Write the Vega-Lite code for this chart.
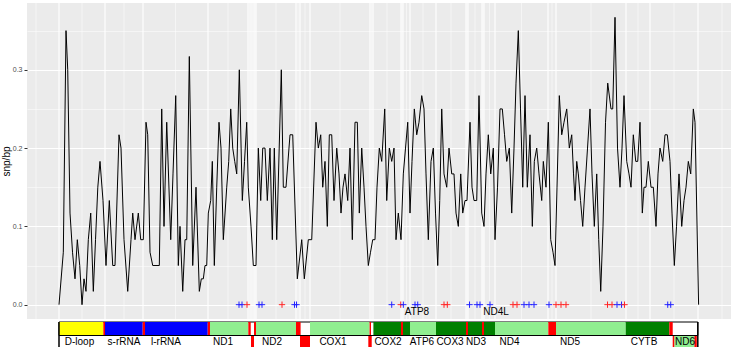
{
  "$schema": "https://vega.github.io/schema/vega-lite/v6.json",
  "padding": {"left": 1, "top": 2, "right": 2, "bottom": 1},
  "spacing": 1,
  "resolve": {"scale": {"color": "independent", "strokeWidth": "independent"}},
  "config": {"view": {"stroke": null}, "font": "Liberation Sans"},
  "datasets": {
    "snp": [
      {"pos":0,"snp":0},{"pos":108,"snp":0.067},{"pos":175,"snp":0.35},{"pos":218,"snp":0.3},{"pos":275,"snp":0.117},{"pos":338,"snp":0.067},{"pos":400,"snp":0.033},{"pos":458,"snp":0.083},{"pos":518,"snp":0.05},{"pos":575,"snp":0},
      {"pos":625,"snp":0.033},{"pos":675,"snp":0.017},{"pos":733,"snp":0.083},{"pos":793,"snp":0.117},{"pos":858,"snp":0.017},{"pos":913,"snp":0.083},{"pos":970,"snp":0.15},{"pos":1025,"snp":0.183},{"pos":1100,"snp":0.133},{"pos":1175,"snp":0.05},
      {"pos":1258,"snp":0.133},{"pos":1343,"snp":0.05},{"pos":1400,"snp":0.05},{"pos":1500,"snp":0.217},{"pos":1550,"snp":0.2},{"pos":1625,"snp":0.083},{"pos":1718,"snp":0.017},{"pos":1800,"snp":0.083},{"pos":1843,"snp":0.117},{"pos":1900,"snp":0.083},
      {"pos":1983,"snp":0.117},{"pos":2043,"snp":0.083},{"pos":2108,"snp":0.083},{"pos":2175,"snp":0.233},{"pos":2218,"snp":0.217},{"pos":2275,"snp":0.067},{"pos":2343,"snp":0.05},{"pos":2400,"snp":0.05},{"pos":2450,"snp":0.05},{"pos":2508,"snp":0.05},
      {"pos":2568,"snp":0.25},{"pos":2625,"snp":0.1},{"pos":2693,"snp":0.233},{"pos":2793,"snp":0.083},{"pos":2850,"snp":0.167},{"pos":2918,"snp":0.267},{"pos":2983,"snp":0.05},{"pos":3025,"snp":0.1},{"pos":3093,"snp":0.017},{"pos":3150,"snp":0.083},
      {"pos":3193,"snp":0.083},{"pos":3258,"snp":0.317},{"pos":3343,"snp":0.05},{"pos":3425,"snp":0.15},{"pos":3508,"snp":0.017},{"pos":3558,"snp":0.033},{"pos":3608,"snp":0.033},{"pos":3650,"snp":0.05},{"pos":3693,"snp":0.05},{"pos":3733,"snp":0.117},
      {"pos":3793,"snp":0.133},{"pos":3833,"snp":0.183},{"pos":3883,"snp":0.05},{"pos":3943,"snp":0.15},{"pos":4000,"snp":0.233},{"pos":4050,"snp":0.2},{"pos":4108,"snp":0.083},{"pos":4193,"snp":0.15},{"pos":4243,"snp":0.183},{"pos":4293,"snp":0.25},
      {"pos":4343,"snp":0.2},{"pos":4393,"snp":0.183},{"pos":4443,"snp":0.167},{"pos":4508,"snp":0.3},{"pos":4583,"snp":0.133},{"pos":4638,"snp":0.183},{"pos":4693,"snp":0.233},{"pos":4733,"snp":0.15},{"pos":4800,"snp":0.1},{"pos":4858,"snp":0.05},
      {"pos":4925,"snp":0.05},{"pos":4983,"snp":0.2},{"pos":5043,"snp":0.133},{"pos":5093,"snp":0.2},{"pos":5150,"snp":0.2},{"pos":5208,"snp":0.133},{"pos":5275,"snp":0.2},{"pos":5333,"snp":0.083},{"pos":5383,"snp":0.2},{"pos":5443,"snp":0.083},
      {"pos":5558,"snp":0.3},{"pos":5608,"snp":0.15},{"pos":5675,"snp":0.15},{"pos":5775,"snp":0.217},{"pos":5843,"snp":0.217},{"pos":5958,"snp":0.033},{"pos":6068,"snp":0.083},{"pos":6133,"snp":0.033},{"pos":6233,"snp":0.083},{"pos":6318,"snp":0.083},
      {"pos":6425,"snp":0.233},{"pos":6483,"snp":0.2},{"pos":6543,"snp":0.217},{"pos":6593,"snp":0.15},{"pos":6650,"snp":0.183},{"pos":6708,"snp":0.1},{"pos":6758,"snp":0.217},{"pos":6818,"snp":0.217},{"pos":6875,"snp":0.133},{"pos":6943,"snp":0.2},
      {"pos":7000,"snp":0.167},{"pos":7050,"snp":0.117},{"pos":7100,"snp":0.15},{"pos":7150,"snp":0.167},{"pos":7218,"snp":0.133},{"pos":7275,"snp":0.2},{"pos":7333,"snp":0.083},{"pos":7400,"snp":0.233},{"pos":7458,"snp":0.233},{"pos":7508,"snp":0.117},
      {"pos":7568,"snp":0.2},{"pos":7625,"snp":0.15},{"pos":7675,"snp":0.1},{"pos":7733,"snp":0.05},{"pos":7788,"snp":0.067},{"pos":7843,"snp":0.083},{"pos":7900,"snp":0.083},{"pos":7950,"snp":0.15},{"pos":8008,"snp":0.2},{"pos":8068,"snp":0.183},
      {"pos":8143,"snp":0.25},{"pos":8193,"snp":0.133},{"pos":8258,"snp":0.2},{"pos":8318,"snp":0.183},{"pos":8375,"snp":0.2},{"pos":8425,"snp":0.083},{"pos":8483,"snp":0.117},{"pos":8550,"snp":0.083},{"pos":8608,"snp":0.167},{"pos":8663,"snp":0.2},
      {"pos":8718,"snp":0.233},{"pos":8775,"snp":0.117},{"pos":8825,"snp":0.183},{"pos":8883,"snp":0.25},{"pos":8943,"snp":0.217},{"pos":9000,"snp":0.233},{"pos":9068,"snp":0.267},{"pos":9125,"snp":0.25},{"pos":9175,"snp":0.167},{"pos":9233,"snp":0.083},
      {"pos":9300,"snp":0.183},{"pos":9358,"snp":0.2},{"pos":9413,"snp":0.117},{"pos":9468,"snp":0.05},{"pos":9518,"snp":0.133},{"pos":9568,"snp":0.25},{"pos":9625,"snp":0.167},{"pos":9693,"snp":0.15},{"pos":9750,"snp":0.2},{"pos":9818,"snp":0.167},
      {"pos":9875,"snp":0.167},{"pos":9925,"snp":0.117},{"pos":9983,"snp":0.1},{"pos":10043,"snp":0.167},{"pos":10093,"snp":0.117},{"pos":10150,"snp":0.133},{"pos":10200,"snp":0.133},{"pos":10275,"snp":0.233},{"pos":10325,"snp":0.15},{"pos":10375,"snp":0.133},
      {"pos":10443,"snp":0.133},{"pos":10500,"snp":0.267},{"pos":10568,"snp":0.117},{"pos":10625,"snp":0.1},{"pos":10675,"snp":0.167},{"pos":10733,"snp":0.217},{"pos":10793,"snp":0.167},{"pos":10858,"snp":0.2},{"pos":10900,"snp":0.083},{"pos":10963,"snp":0.15},
      {"pos":11025,"snp":0.25},{"pos":11083,"snp":0.25},{"pos":11138,"snp":0.217},{"pos":11193,"snp":0.183},{"pos":11258,"snp":0.2},{"pos":11318,"snp":0.117},{"pos":11375,"snp":0.2},{"pos":11425,"snp":0.283},{"pos":11483,"snp":0.35},{"pos":11538,"snp":0.25},
      {"pos":11593,"snp":0.15},{"pos":11650,"snp":0.267},{"pos":11708,"snp":0.15},{"pos":11775,"snp":0.217},{"pos":11833,"snp":0.1},{"pos":11883,"snp":0.183},{"pos":11943,"snp":0.2},{"pos":12000,"snp":0.167},{"pos":12068,"snp":0.133},{"pos":12108,"snp":0.183},
      {"pos":12175,"snp":0.15},{"pos":12233,"snp":0.233},{"pos":12293,"snp":0.083},{"pos":12350,"snp":0.067},{"pos":12400,"snp":0.05},{"pos":12450,"snp":0.15},{"pos":12508,"snp":0.267},{"pos":12568,"snp":0.217},{"pos":12625,"snp":0.233},{"pos":12693,"snp":0.25},
      {"pos":12758,"snp":0.2},{"pos":12818,"snp":0.217},{"pos":12863,"snp":0.167},{"pos":12900,"snp":0.133},{"pos":12943,"snp":0.183},{"pos":12983,"snp":0.167},{"pos":13038,"snp":0.133},{"pos":13093,"snp":0.1},{"pos":13150,"snp":0.15},{"pos":13213,"snp":0.2},
      {"pos":13275,"snp":0.25},{"pos":13325,"snp":0.167},{"pos":13383,"snp":0.1},{"pos":13443,"snp":0.167},{"pos":13493,"snp":0.083},{"pos":13543,"snp":0.017},{"pos":13600,"snp":0.1},{"pos":13663,"snp":0.233},{"pos":13718,"snp":0.283},{"pos":13800,"snp":0.25},
      {"pos":13843,"snp":0.25},{"pos":13900,"snp":0.367},{"pos":13963,"snp":0.2},{"pos":14025,"snp":0.15},{"pos":14075,"snp":0.2},{"pos":14125,"snp":0.267},{"pos":14193,"snp":0.183},{"pos":14250,"snp":0.167},{"pos":14300,"snp":0.15},{"pos":14358,"snp":0.217},
      {"pos":14418,"snp":0.183},{"pos":14468,"snp":0.183},{"pos":14525,"snp":0.233},{"pos":14583,"snp":0.117},{"pos":14625,"snp":0.15},{"pos":14675,"snp":0.15},{"pos":14733,"snp":0.183},{"pos":14800,"snp":0.15},{"pos":14858,"snp":0.15},{"pos":14925,"snp":0.1},
      {"pos":14975,"snp":0.167},{"pos":15025,"snp":0.2},{"pos":15093,"snp":0.183},{"pos":15150,"snp":0.217},{"pos":15208,"snp":0.217},{"pos":15275,"snp":0.183},{"pos":15325,"snp":0.117},{"pos":15383,"snp":0.05},{"pos":15438,"snp":0.1},{"pos":15500,"snp":0.167},
      {"pos":15568,"snp":0.1},{"pos":15625,"snp":0.133},{"pos":15675,"snp":0.15},{"pos":15733,"snp":0.183},{"pos":15793,"snp":0.167},{"pos":15858,"snp":0.25},{"pos":15900,"snp":0.233},{"pos":15990,"snp":0}
    ],
    "markers": [
      {"pos":4500,"type":"b"},{"pos":4575,"type":"b"},{"pos":4700,"type":"r"},{"pos":5000,"type":"b"},{"pos":5075,"type":"b"},{"pos":5575,"type":"r"},{"pos":5888,"type":"b"},{"pos":5938,"type":"b"},
      {"pos":8318,"type":"b"},{"pos":8543,"type":"r"},{"pos":8608,"type":"b"},{"pos":8900,"type":"b"},{"pos":8968,"type":"b"},{"pos":9625,"type":"r"},{"pos":9708,"type":"r"},
      {"pos":10263,"type":"b"},{"pos":10450,"type":"b"},{"pos":10525,"type":"b"},{"pos":10775,"type":"b"},{"pos":11350,"type":"r"},{"pos":11450,"type":"r"},{"pos":11625,"type":"b"},{"pos":11750,"type":"b"},{"pos":11875,"type":"b"},
      {"pos":12250,"type":"b"},{"pos":12425,"type":"r"},{"pos":12550,"type":"r"},{"pos":12675,"type":"r"},{"pos":13713,"type":"r"},{"pos":13825,"type":"r"},{"pos":13950,"type":"b"},{"pos":14063,"type":"b"},{"pos":14138,"type":"r"},
      {"pos":15218,"type":"b"},{"pos":15293,"type":"b"}
    ],
    "grid": [
      {"pos":0,"kind":"major"},{"pos":1150,"kind":"major"},{"pos":2100,"kind":"major"},{"pos":3725,"kind":"major"},{"pos":4725,"kind":"major"},{"pos":4800,"kind":"major"},{"pos":4875,"kind":"major"},{"pos":4925,"kind":"major"},{"pos":5925,"kind":"major"},{"pos":6025,"kind":"major"},{"pos":6275,"kind":"major"},{"pos":7775,"kind":"major"},{"pos":7850,"kind":"major"},{"pos":8550,"kind":"major"},{"pos":8600,"kind":"major"},{"pos":8775,"kind":"major"},{"pos":9425,"kind":"major"},{"pos":10175,"kind":"major"},{"pos":10225,"kind":"major"},{"pos":10575,"kind":"major"},{"pos":10625,"kind":"major"},{"pos":10900,"kind":"major"},{"pos":12225,"kind":"major"},{"pos":12425,"kind":"major"},{"pos":14175,"kind":"major"},{"pos":14775,"kind":"major"},{"pos":15975,"kind":"major"},
      {"pos":-575,"kind":"minor"},{"pos":575,"kind":"minor"},{"pos":1625,"kind":"minor"},{"pos":2912,"kind":"minor"},{"pos":4225,"kind":"minor"},{"pos":4762,"kind":"minor"},{"pos":4837,"kind":"minor"},{"pos":4900,"kind":"minor"},{"pos":5425,"kind":"minor"},{"pos":5975,"kind":"minor"},{"pos":6150,"kind":"minor"},{"pos":7025,"kind":"minor"},{"pos":7812,"kind":"minor"},{"pos":8200,"kind":"minor"},{"pos":8575,"kind":"minor"},{"pos":8687,"kind":"minor"},{"pos":9100,"kind":"minor"},{"pos":9800,"kind":"minor"},{"pos":10200,"kind":"minor"},{"pos":10400,"kind":"minor"},{"pos":10600,"kind":"minor"},{"pos":10762,"kind":"minor"},{"pos":11562,"kind":"minor"},{"pos":12325,"kind":"minor"},{"pos":13300,"kind":"minor"},{"pos":14475,"kind":"minor"},{"pos":15375,"kind":"minor"},{"pos":16575,"kind":"minor"}
    ],
    "genome": [{"start":0,"end":15970}],
    "genes": [
      {"gene":"D-loop","start":0,"end":1108,"lane":"H","class":"D-loop"},
      {"gene":"tRNA-Phe","start":1108,"end":1150,"lane":"H","class":"tRNA"},
      {"gene":"s-rRNA","start":1150,"end":2093,"lane":"H","class":"rRNA"},
      {"gene":"tRNA-Val","start":2093,"end":2150,"lane":"H","class":"tRNA"},
      {"gene":"l-rRNA","start":2150,"end":3718,"lane":"H","class":"rRNA"},
      {"gene":"tRNA-Leu","start":3718,"end":3775,"lane":"H","class":"tRNA"},
      {"gene":"ND1","start":3775,"end":4733,"lane":"H","class":"PCG-light"},
      {"gene":"tRNA-Ile","start":4733,"end":4793,"lane":"H","class":"tRNA"},
      {"gene":"tRNA-Gln","start":4800,"end":4875,"lane":"L","class":"tRNA"},
      {"gene":"tRNA-Met","start":4875,"end":4925,"lane":"H","class":"tRNA"},
      {"gene":"ND2","start":4925,"end":5925,"lane":"H","class":"PCG-light"},
      {"gene":"tRNA-Trp","start":5925,"end":6040,"lane":"H","class":"tRNA"},
      {"gene":"tRNA-Ala-Asn-Cys-Tyr","start":6025,"end":6275,"lane":"L","class":"tRNA"},
      {"gene":"COX1","start":6275,"end":7765,"lane":"H","class":"PCG-light"},
      {"gene":"tRNA-Ser","start":7733,"end":7818,"lane":"L","class":"tRNA"},
      {"gene":"tRNA-Asp","start":7765,"end":7800,"lane":"H","class":"tRNA"},
      {"gene":"COX2","start":7860,"end":8550,"lane":"H","class":"PCG-dark"},
      {"gene":"tRNA-Lys","start":8550,"end":8600,"lane":"H","class":"tRNA"},
      {"gene":"ATP8","start":8600,"end":8775,"lane":"H","class":"PCG-dark"},
      {"gene":"ATP6","start":8775,"end":9425,"lane":"H","class":"PCG-light"},
      {"gene":"COX3","start":9425,"end":10175,"lane":"H","class":"PCG-dark"},
      {"gene":"tRNA-Gly","start":10175,"end":10225,"lane":"H","class":"tRNA"},
      {"gene":"ND3","start":10225,"end":10575,"lane":"H","class":"PCG-dark"},
      {"gene":"tRNA-Arg","start":10575,"end":10625,"lane":"H","class":"tRNA"},
      {"gene":"ND4L","start":10625,"end":10900,"lane":"H","class":"PCG-dark"},
      {"gene":"ND4","start":10900,"end":12233,"lane":"H","class":"PCG-light"},
      {"gene":"tRNA-His-Ser-Leu","start":12233,"end":12425,"lane":"H","class":"tRNA"},
      {"gene":"ND5","start":12425,"end":14168,"lane":"H","class":"PCG-light"},
      {"gene":"CYTB","start":14168,"end":15258,"lane":"H","class":"PCG-dark"},
      {"gene":"tRNA-Thr","start":15258,"end":15343,"lane":"H","class":"tRNA"},
      {"gene":"tRNA-Pro","start":15343,"end":15388,"lane":"L","class":"tRNA"},
      {"gene":"ND6","start":15388,"end":15885,"lane":"L","class":"PCG-light"},
      {"gene":"tRNA-Glu","start":15885,"end":15945,"lane":"L","class":"tRNA"}
    ],
    "labels": [
      {"name":"D-loop","pos":512,"lane":"below"},{"name":"s-rRNA","pos":1625,"lane":"below"},{"name":"l-rRNA","pos":2675,"lane":"below"},{"name":"ND1","pos":4100,"lane":"below"},
      {"name":"ND2","pos":5325,"lane":"below"},{"name":"COX1","pos":6850,"lane":"below"},{"name":"COX2","pos":8225,"lane":"below"},{"name":"ATP8","pos":8950,"lane":"above"},
      {"name":"ATP6","pos":9075,"lane":"below"},{"name":"COX3","pos":9775,"lane":"below"},{"name":"ND3","pos":10425,"lane":"below"},{"name":"ND4L","pos":10925,"lane":"above"},
      {"name":"ND4","pos":11263,"lane":"below"},{"name":"ND5","pos":12775,"lane":"below"},{"name":"CYTB","pos":14625,"lane":"below"},{"name":"ND6","pos":15650,"lane":"below"}
    ]
  },
  "vconcat": [
    {
      "width": 704,
      "height": 316,
      "view": {"fill": "#EBEBEB", "stroke": null},
      "layer": [
        {
          "data": {"name": "grid"},
          "mark": {"type": "rule", "color": "white"},
          "encoding": {
            "x": {"field": "pos", "type": "quantitative", "scale": {"domain": [-800, 16800], "nice": false, "zero": false}, "axis": null},
            "strokeWidth": {"field": "kind", "type": "nominal", "scale": {"domain": ["major", "minor"], "range": [1.1, 0.5]}, "legend": null}
          }
        },
        {
          "data": {"name": "snp"},
          "mark": {"type": "line", "color": "black", "strokeWidth": 1},
          "encoding": {
            "x": {"field": "pos", "type": "quantitative"},
            "y": {
              "field": "snp", "type": "quantitative",
              "scale": {"domain": [-0.0183, 0.3853], "nice": false, "zero": false},
              "title": "snp/bp",
              "axis": {
                "values": [0, 0.05, 0.1, 0.15, 0.2, 0.25, 0.3, 0.35],
                "labelExpr": "round(datum.value*100) % 10 == 0 ? format(datum.value, '.1f') : ''",
                "grid": true,
                "gridColor": "white",
                "gridWidth": {"condition": {"test": "round(datum.value*100) % 10 == 0", "value": 1.1}, "value": 0.5},
                "tickOpacity": {"condition": {"test": "round(datum.value*100) % 10 == 0", "value": 1}, "value": 0},
                "tickSize": 3,
                "tickColor": "#333333",
                "domain": false,
                "labelFontSize": 7,
                "labelColor": "#4D4D4D",
                "labelPadding": 2,
                "minExtent": 15,
                "maxExtent": 15,
                "titleFontSize": 10,
                "titleFontWeight": "normal",
                "titleColor": "black",
                "titlePadding": 1
              }
            }
          }
        },
        {
          "data": {"name": "markers"},
          "mark": {"type": "point", "shape": "M-1,0L1,0M0,-1L0,1", "filled": false, "size": 40, "strokeWidth": 1, "opacity": 1},
          "encoding": {
            "x": {"field": "pos", "type": "quantitative"},
            "y": {"datum": 0},
            "color": {"field": "type", "type": "nominal", "scale": {"domain": ["b", "r"], "range": ["#2222FF", "#FF2222"]}, "legend": null}
          }
        },
        {
          "data": {"name": "labels"},
          "transform": [{"filter": "datum.lane == 'above'"}],
          "mark": {"type": "text", "fontSize": 10, "color": "black"},
          "encoding": {
            "x": {"field": "pos", "type": "quantitative"},
            "y": {"datum": -0.0089},
            "text": {"field": "name"}
          }
        }
      ]
    },
    {
      "width": 704,
      "height": 27,
      "layer": [
        {
          "data": {"name": "genome"},
          "mark": {"type": "rect", "fill": "white", "stroke": "black", "strokeWidth": 1},
          "encoding": {
            "x": {"field": "start", "type": "quantitative", "scale": {"domain": [-800, 16800], "nice": false, "zero": false}, "axis": null},
            "x2": {"field": "end"},
            "y": {"datum": "H", "type": "nominal", "scale": {"domain": ["H", "L"], "paddingInner": 0, "paddingOuter": 0}, "axis": null}
          }
        },
        {
          "data": {"name": "genes"},
          "mark": {"type": "rect"},
          "encoding": {
            "x": {"field": "start", "type": "quantitative"},
            "x2": {"field": "end"},
            "y": {"field": "lane", "type": "nominal"},
            "color": {"field": "class", "type": "nominal", "scale": {"domain": ["D-loop", "rRNA", "tRNA", "PCG-light", "PCG-dark"], "range": ["#FFFF00", "#0000FF", "#FF0000", "#90EE90", "#008000"]}, "legend": null}
          }
        },
        {
          "data": {"name": "genome"},
          "mark": {"type": "rule", "color": "black", "strokeWidth": 1},
          "encoding": {
            "x": {"field": "start", "type": "quantitative"},
            "x2": {"field": "end"},
            "y": {"datum": "L", "type": "nominal", "bandPosition": 0}
          }
        },
        {
          "data": {"name": "genome"},
          "mark": {"type": "rule", "color": "black", "strokeWidth": 1.5},
          "encoding": {"x": {"field": "start", "type": "quantitative"}}
        },
        {
          "data": {"name": "genome"},
          "mark": {"type": "rule", "color": "black", "strokeWidth": 1.5},
          "encoding": {"x": {"field": "end", "type": "quantitative"}}
        },
        {
          "data": {"name": "labels"},
          "transform": [{"filter": "datum.lane == 'below'"}],
          "mark": {"type": "text", "fontSize": 10, "color": "black"},
          "encoding": {
            "x": {"field": "pos", "type": "quantitative"},
            "y": {"datum": "L", "type": "nominal"},
            "text": {"field": "name"}
          }
        }
      ]
    }
  ]
}
